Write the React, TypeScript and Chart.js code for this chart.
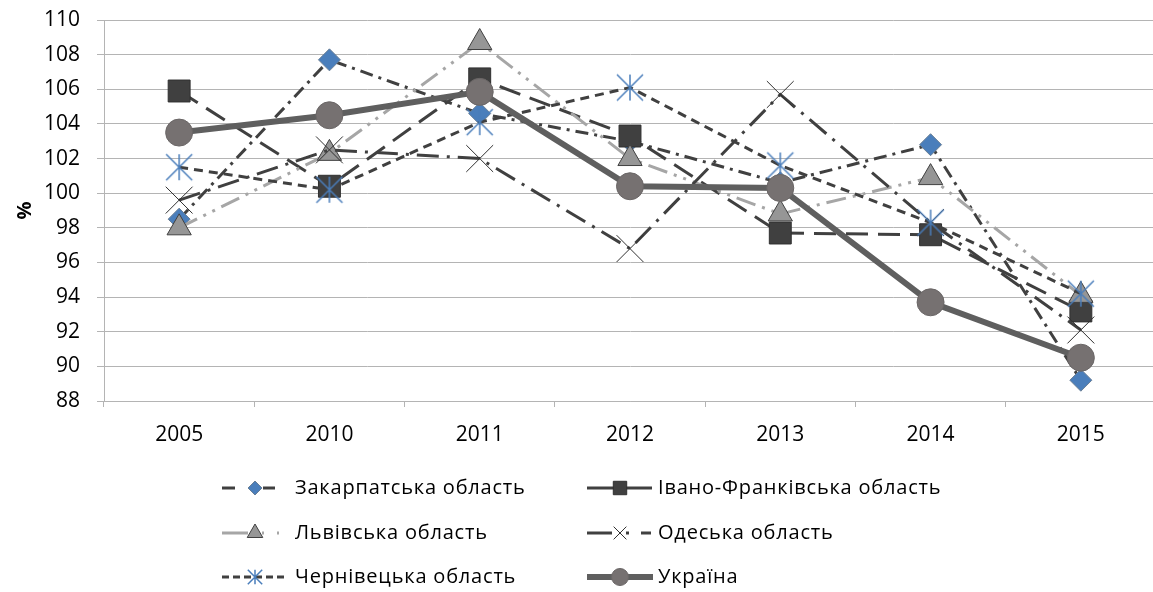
import React, { useEffect, useRef } from 'react';
import { Chart, registerables } from 'chart.js';

Chart.register(...registerables);

// ---------- data ----------
const categories = ['2005', '2010', '2011', '2012', '2013', '2014', '2015'];
const seriesNames = [
  'Закарпатська область',
  'Івано-Франківська область',
  'Львівська область',
  'Одеська область',
  'Чернівецька область',
  'Україна',
];
const zakarpatska = [98.5, 107.7, 104.6, 103.0, 100.6, 102.8, 89.2];
const ivanoFrankivska = [105.9, 100.4, 106.6, 103.3, 97.7, 97.6, 93.2];
const lvivska = [98.0, 102.3, 108.7, 102.0, 98.8, 100.9, 94.1];
const odeska = [99.6, 102.5, 102.0, 96.8, 105.7, 98.3, 92.1];
const chernivetska = [101.5, 100.2, 104.1, 106.1, 101.6, 98.3, 94.2];
const ukraina = [103.5, 104.5, 105.85, 100.4, 100.3, 93.7, 90.5];
const yMin = 88;
const yMax = 110;
const yStep = 2;
const yTitle = '%';

const FONT = "'Open Sans', sans-serif";
const DARK = '#404040';
const GRID = '#b4b4b4';
const BLUE = '#4a7ebb';
const CANVAS_W = 1176;
const CANVAS_H = 592;

function makeAsterisk(half: number, lw: number, color: string): HTMLCanvasElement {
  const c = document.createElement('canvas');
  const s = Math.ceil(half * 2 + 4);
  c.width = s;
  c.height = s;
  const ctx = c.getContext('2d')!;
  const m = s / 2;
  ctx.strokeStyle = color;
  ctx.lineWidth = lw;
  ctx.beginPath();
  ctx.moveTo(m, m - half);
  ctx.lineTo(m, m + half);
  ctx.moveTo(m - half, m - half);
  ctx.lineTo(m + half, m + half);
  ctx.moveTo(m - half, m + half);
  ctx.lineTo(m + half, m - half);
  ctx.stroke();
  return c;
}

type Style = {
  color: string;
  width: number;
  dash: number[];
  legendDash: number[];
  legendX1: number;
  marker: string;
  radius: number;
  fill: string;
  stroke: string;
  markerLw: number;
  legendR: number;
};

const styles: Style[] = [
  { color: DARK, width: 3, dash: [13, 6, 3, 6], legendDash: [13, 28, 12, 100], legendX1: 276, marker: 'rectRot', radius: 11, fill: BLUE, stroke: '#6a7f95', markerLw: 1, legendR: 7 },
  { color: DARK, width: 3, dash: [22, 10], legendDash: [], legendX1: 652, marker: 'rect', radius: 15.5, fill: DARK, stroke: '#303030', markerLw: 1, legendR: 9.5 },
  { color: '#a6a6a6', width: 3, dash: [20, 7, 3, 7, 3, 7], legendDash: [26, 14, 2, 13, 2, 100], legendX1: 281, marker: 'triangle', radius: 14, fill: '#969696', stroke: '#404040', markerLw: 1, legendR: 9 },
  { color: DARK, width: 3, dash: [22, 8, 3, 8], legendDash: [25, 14, 3, 12, 10, 100], legendX1: 651, marker: 'crossRot', radius: 19, fill: '#000', stroke: '#303030', markerLw: 1, legendR: 9 },
  { color: DARK, width: 3, dash: [9, 6], legendDash: [7, 4], legendX1: 288, marker: 'asterisk', radius: 13, fill: BLUE, stroke: BLUE, markerLw: 1.5, legendR: 8 },
  { color: '#5f5f5f', width: 6, dash: [], legendDash: [], legendX1: 653, marker: 'circle', radius: 13.5, fill: '#767171', stroke: '#6a6666', markerLw: 1, legendR: 8.5 },
];

const seriesData = [zakarpatska, ivanoFrankivska, lvivska, odeska, chernivetska, ukraina];

function drawMarker(ctx: CanvasRenderingContext2D, st: Style, x: number, y: number, r: number) {
  ctx.save();
  ctx.setLineDash([]);
  ctx.fillStyle = st.fill;
  ctx.strokeStyle = st.stroke;
  ctx.lineWidth = st.markerLw;
  ctx.beginPath();
  if (st.marker === 'rectRot') {
    ctx.moveTo(x, y - r);
    ctx.lineTo(x + r, y);
    ctx.lineTo(x, y + r);
    ctx.lineTo(x - r, y);
    ctx.closePath();
    ctx.fill();
    ctx.stroke();
  } else if (st.marker === 'rect') {
    const h = r * Math.SQRT1_2;
    ctx.rect(x - h, y - h, 2 * h, 2 * h);
    ctx.fill();
    ctx.stroke();
  } else if (st.marker === 'triangle') {
    const a = r;
    ctx.moveTo(x, y - a);
    ctx.lineTo(x + a * 0.866, y + a * 0.5);
    ctx.lineTo(x - a * 0.866, y + a * 0.5);
    ctx.closePath();
    ctx.fill();
    ctx.stroke();
  } else if (st.marker === 'crossRot') {
    const h = r * Math.SQRT1_2;
    ctx.moveTo(x - h, y - h);
    ctx.lineTo(x + h, y + h);
    ctx.moveTo(x - h, y + h);
    ctx.lineTo(x + h, y - h);
    ctx.stroke();
  } else if (st.marker === 'asterisk') {
    const h = r * 0.9;
    ctx.moveTo(x, y - h);
    ctx.lineTo(x, y + h);
    ctx.moveTo(x - h, y - h);
    ctx.lineTo(x + h, y + h);
    ctx.moveTo(x - h, y + h);
    ctx.lineTo(x + h, y - h);
    ctx.stroke();
  } else {
    ctx.arc(x, y, r, 0, Math.PI * 2);
    ctx.fill();
    ctx.stroke();
  }
  ctx.restore();
}

const legendCols = [
  { x0: 222, mx: 255, tx: 295 },
  { x0: 587, mx: 620, tx: 658 },
];
const legendRows = [488, 533, 577];

const customLegend = {
  id: 'customLegend',
  afterDraw(chart: any) {
    const ctx: CanvasRenderingContext2D = chart.ctx;
    seriesNames.forEach((name, i) => {
      const col = legendCols[i % 2];
      const y = legendRows[Math.floor(i / 2)];
      const st = styles[i];
      ctx.save();
      ctx.strokeStyle = st.color;
      ctx.lineWidth = st.width;
      ctx.setLineDash(st.legendDash);
      ctx.beginPath();
      ctx.moveTo(col.x0, y);
      ctx.lineTo(st.legendX1, y);
      ctx.stroke();
      ctx.restore();
      drawMarker(ctx, st, col.mx, y, st.legendR);
      ctx.save();
      ctx.fillStyle = '#000';
      ctx.font = `20px ${FONT}`;
      (ctx as any).letterSpacing = '0.8px';
      ctx.textBaseline = 'middle';
      ctx.textAlign = 'left';
      ctx.fillText(name, col.tx, y);
      ctx.restore();
    });
  },
};

export default function App() {
  const ref = useRef<HTMLCanvasElement | null>(null);

  useEffect(() => {
    if (!ref.current) return;
    const asterisk = makeAsterisk(13, 1.5, BLUE);
    const datasets = seriesNames.map((name, i) => {
      const st = styles[i];
      return {
        label: name,
        data: seriesData[i],
        borderColor: st.color,
        borderWidth: st.width,
        borderDash: st.dash,
        borderCapStyle: 'butt',
        fill: false,
        tension: 0,
        pointStyle: st.marker === 'asterisk' ? asterisk : st.marker,
        pointRadius: st.radius,
        pointHoverRadius: st.radius,
        pointBackgroundColor: st.fill,
        pointBorderColor: st.stroke,
        pointBorderWidth: st.markerLw,
        order: seriesNames.length - i,
      };
    });

    const chart = new Chart(ref.current, {
      type: 'line',
      data: { labels: categories, datasets: datasets as any },
      options: {
        responsive: false,
        animation: false,
        devicePixelRatio: 1,
        layout: { padding: { left: 0, right: 4, top: 19, bottom: 0 } },
        plugins: {
          legend: { display: false },
          tooltip: { enabled: false },
        },
        scales: {
          x: {
            offset: true,
            grid: {
              offset: true,
              drawOnChartArea: false,
              drawTicks: true,
              tickLength: 6,
              color: GRID,
            },
            border: { display: true, color: GRID },
            ticks: {
              color: '#000',
              font: { family: FONT, size: 21 },
              padding: 15,
              maxRotation: 0,
            },
            afterFit: (s: any) => {
              s.height = CANVAS_H - 401;
              s.paddingLeft = 0;
              s.paddingRight = 0;
            },
          },
          y: {
            min: yMin,
            max: yMax,
            ticks: {
              stepSize: yStep,
              color: '#000',
              font: { family: FONT, size: 21 },
              padding: 17,
            },
            grid: { color: GRID, tickLength: 7, drawTicks: true },
            border: { display: true, color: GRID },
            title: {
              display: true,
              text: yTitle,
              color: '#000',
              font: { family: FONT, size: 20, weight: 'bold' },
              padding: { top: 13, bottom: 0 },
            },
            afterFit: (s: any) => {
              s.width = 104;
              s.paddingTop = 0;
              s.paddingBottom = 0;
            },
          },
        },
      },
      plugins: [customLegend],
    });
    return () => chart.destroy();
  }, []);

  return (
    <div
      style={{
        position: 'absolute',
        left: 0,
        top: 0,
        width: 1153,
        height: 592,
        overflow: 'hidden',
        background: '#fff',
      }}
    >
      <canvas
        ref={ref}
        width={CANVAS_W}
        height={CANVAS_H}
        style={{ width: CANVAS_W, height: CANVAS_H, display: 'block' }}
      />
    </div>
  );
}
